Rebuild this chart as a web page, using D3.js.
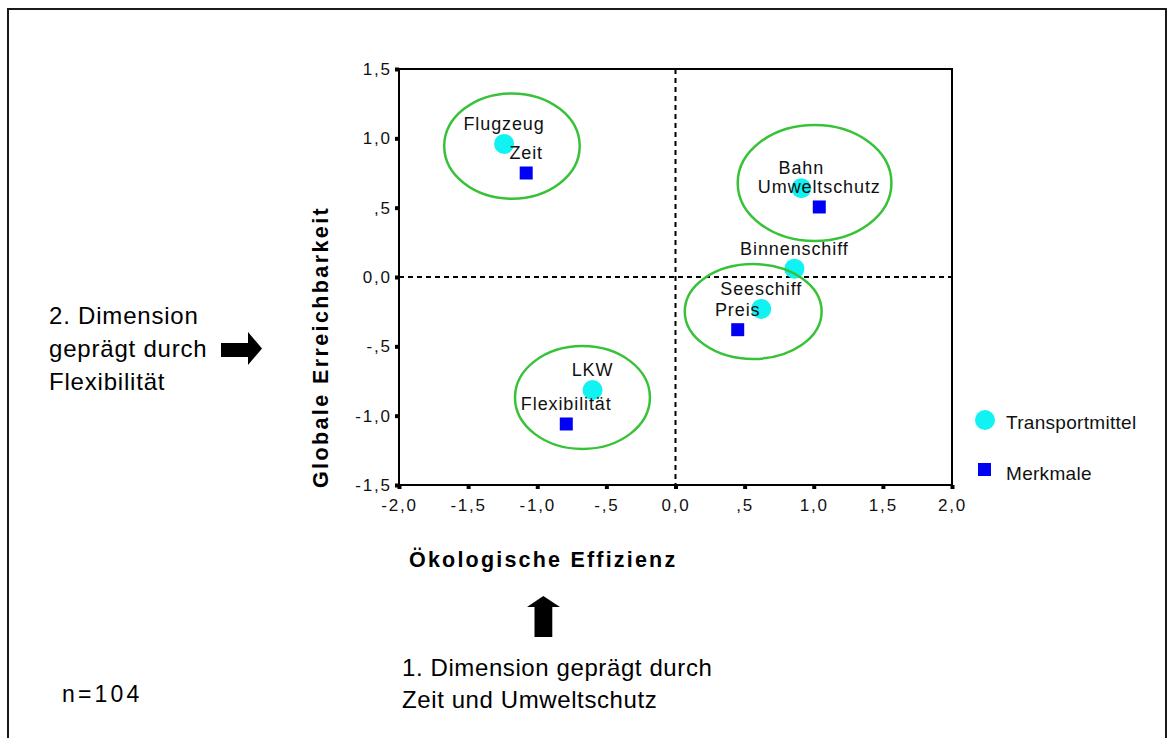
<!DOCTYPE html>
<html>
<head>
<meta charset="utf-8">
<script src="https://cdn.jsdelivr.net/npm/d3@7"></script>
<style>
  html, body { margin: 0; padding: 0; background: #fff; }
  svg { display: block; font-family: Arial, "Liberation Sans", sans-serif; }
</style>
</head>
<body>
<svg id="chart" width="1169" height="738"></svg>
<script>
// Transport modes (cyan circles) and attributes (blue squares) in the two-dimensional space
const modeNames = ["Flugzeug", "Bahn", "Binnenschiff", "Seeschiff", "LKW"];
const modeX = [-1.24, 0.91, 0.86, 0.62, -0.60];
const modeY = [0.96, 0.64, 0.06, -0.23, -0.815];

const attrNames = ["Zeit", "Umweltschutz", "Preis", "Flexibilität"];
const attrX = [-1.08, 1.04, 0.45, -0.79];
const attrY = [0.75, 0.505, -0.38, -1.06];

// Grouping ellipses (centre and radii in dimension units)
const groupCx = [-1.183, 1.006, 0.562, -0.673];
const groupCy = [0.944, 0.678, -0.249, -0.869];
const groupRx = [0.49, 0.556, 0.495, 0.488];
const groupRy = [0.38, 0.418, 0.342, 0.371];

const xTicks = [-2, -1.5, -1, -0.5, 0, 0.5, 1, 1.5, 2];
const xTickLabels = ["-2,0", "-1,5", "-1,0", "-,5", "0,0", ",5", "1,0", "1,5", "2,0"];
const yTicks = [1.5, 1, 0.5, 0, -0.5, -1, -1.5];
const yTickLabels = ["1,5", "1,0", ",5", "0,0", "-,5", "-1,0", "-1,5"];

const legendLabels = ["Transportmittel", "Merkmale"];

const svg = d3.select("#chart");

// outer frame
svg.append("rect")
  .attr("x", 8).attr("y", 9).attr("width", 1158).attr("height", 740)
  .attr("fill", "none").attr("stroke", "#1a1a1a").attr("stroke-width", 2);

const plot = { left: 399, top: 69, right: 952, bottom: 485 };
const x = d3.scaleLinear().domain([-2, 2]).range([plot.left, plot.right]);
const y = d3.scaleLinear().domain([-1.5, 1.5]).range([plot.bottom, plot.top]);

// axes
const yAxis = d3.axisLeft(y)
  .tickValues(yTicks)
  .tickFormat((d, i) => yTickLabels[i])
  .tickSize(4).tickPadding(5);
const gy = svg.append("g").attr("transform", `translate(${plot.left},0)`).call(yAxis);

const xAxis = d3.axisBottom(x)
  .tickValues(xTicks)
  .tickFormat((d, i) => xTickLabels[i])
  .tickSize(4).tickPadding(10);
const gx = svg.append("g").attr("transform", `translate(0,${plot.bottom})`).call(xAxis);

[gx, gy].forEach(g => {
  g.select(".domain").remove();
  g.selectAll(".tick line").attr("stroke", "#000").attr("stroke-width", 4);
  g.selectAll(".tick text")
    .attr("fill", "#111")
    .attr("font-size", 17)
    .attr("letter-spacing", "1.8px")
    .attr("font-family", "Arial, 'Liberation Sans', sans-serif");
});
gy.selectAll(".tick text").attr("dx", "1.8px");

// plot frame
svg.append("rect")
  .attr("x", plot.left).attr("y", plot.top)
  .attr("width", plot.right - plot.left).attr("height", plot.bottom - plot.top)
  .attr("fill", "none").attr("stroke", "#000").attr("stroke-width", 2);

// reference lines through the origin
svg.append("line")
  .attr("x1", x(0)).attr("x2", x(0)).attr("y1", plot.top).attr("y2", plot.bottom)
  .attr("stroke", "#000").attr("stroke-width", 2).attr("stroke-dasharray", "5,4");
svg.append("line")
  .attr("x1", plot.left).attr("x2", plot.right).attr("y1", y(0)).attr("y2", y(0))
  .attr("stroke", "#000").attr("stroke-width", 2).attr("stroke-dasharray", "5,4");

// markers
const modes = modeNames.map((n, i) => ({ name: n, x: modeX[i], y: modeY[i] }));
const attrs = attrNames.map((n, i) => ({ name: n, x: attrX[i], y: attrY[i] }));

svg.append("g").selectAll("circle").data(modes).join("circle")
  .attr("cx", d => x(d.x)).attr("cy", d => y(d.y)).attr("r", 10)
  .attr("fill", "#11f2f2");

const sq = 13;
svg.append("g").selectAll("rect").data(attrs).join("rect")
  .attr("x", d => x(d.x) - sq / 2).attr("y", d => y(d.y) - sq / 2)
  .attr("width", sq).attr("height", sq)
  .attr("fill", "#0000f5");

// point labels
svg.append("g").selectAll("text").data(modes.concat(attrs)).join("text")
  .attr("x", d => x(d.x)).attr("y", d => y(d.y) - 14)
  .attr("text-anchor", "middle")
  .attr("font-size", 18).attr("letter-spacing", "0.9px")
  .attr("fill", "#111")
  .text(d => d.name);

// grouping ellipses
svg.append("g").selectAll("ellipse").data(groupCx).join("ellipse")
  .attr("cx", (d, i) => x(groupCx[i]))
  .attr("cy", (d, i) => y(groupCy[i]))
  .attr("rx", (d, i) => x(groupRx[i]) - x(0))
  .attr("ry", (d, i) => y(0) - y(groupRy[i]))
  .attr("fill", "none").attr("stroke", "#38c238").attr("stroke-width", 2.5);

// axis titles
svg.append("text")
  .attr("x", 409).attr("y", 567)
  .attr("font-size", 21.5).attr("font-weight", "bold").attr("letter-spacing", "2.2px")
  .attr("fill", "#000")
  .text("Ökologische Effizienz");

svg.append("text")
  .attr("transform", "translate(328,347) rotate(-90)")
  .attr("text-anchor", "middle")
  .attr("font-size", 21.5).attr("font-weight", "bold").attr("letter-spacing", "2.4px")
  .attr("fill", "#000")
  .text("Globale Erreichbarkeit");

// dimension notes
const leftNote = svg.append("text").attr("font-size", 24).attr("letter-spacing", "0.8px").attr("fill", "#000");
["2. Dimension", "geprägt durch", "Flexibilität"].forEach((t, i) => {
  leftNote.append("tspan").attr("x", 49).attr("y", 324 + i * 33).text(t);
});
const bottomNote = svg.append("text").attr("font-size", 24).attr("letter-spacing", "0.6px").attr("fill", "#000");
["1. Dimension geprägt durch", "Zeit und Umweltschutz"].forEach((t, i) => {
  bottomNote.append("tspan").attr("x", 402).attr("y", 676 + i * 32).text(t);
});

// arrows pointing to the axes
svg.append("path")
  .attr("d", "M221,343 L248,343 L248,332 L262,348.5 L248,365 L248,357 L221,357 Z")
  .attr("fill", "#000");
svg.append("path")
  .attr("d", "M534.5,637 L534.5,607 L527,607 L543.3,596 L560,607 L552.3,607 L552.3,637 Z")
  .attr("fill", "#000");

// sample size
svg.append("text")
  .attr("x", 62).attr("y", 702)
  .attr("font-size", 23).attr("letter-spacing", "3.2px").attr("fill", "#000")
  .text("n=104");

// legend
const lg = svg.append("g");
lg.append("circle").attr("cx", 985).attr("cy", 420).attr("r", 10).attr("fill", "#11f2f2");
lg.append("rect").attr("x", 978).attr("y", 463).attr("width", 13).attr("height", 13).attr("fill", "#0000f5");
lg.selectAll("text").data(legendLabels).join("text")
  .attr("x", 1006).attr("y", (d, i) => 429 + i * 51)
  .attr("font-size", 19).attr("letter-spacing", "0.3px").attr("fill", "#111")
  .text(d => d);
</script>
</body>
</html>
